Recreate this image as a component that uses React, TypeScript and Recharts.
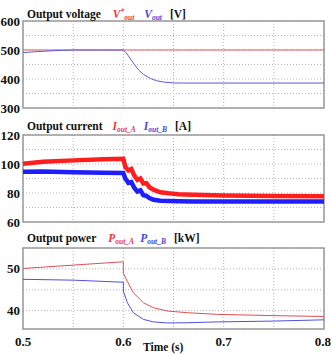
import { CartesianGrid, Line, LineChart, ReferenceArea, XAxis, YAxis } from "recharts";

// panel 1: output voltage
const time1 = [0.5, 0.51, 0.52, 0.53, 0.54, 0.55, 0.575, 0.6, 0.602, 0.605, 0.61, 0.615, 0.62, 0.627, 0.633, 0.64, 0.65, 0.66, 0.7, 0.75, 0.8];
const vRef = [500, 500, 500, 500, 500, 500, 500, 500, 500, 500, 500, 500, 500, 500, 500, 500, 500, 500, 500, 500, 500];
const vOut = [491, 493.5, 495.5, 497.5, 499, 500, 500, 500, 494, 480, 455, 432, 416, 402, 394, 389.5, 386.5, 386, 386, 386, 386];

// panel 2: output current
const time2 = [0.5, 0.52, 0.55, 0.58, 0.6, 0.602, 0.605, 0.608, 0.611, 0.614, 0.617, 0.62, 0.623, 0.626, 0.63, 0.637, 0.645, 0.655, 0.67, 0.7, 0.75, 0.8];
const iOutA = [100.2, 101.5, 102.5, 103.2, 103.6, 98, 95.5, 96.5, 92, 89, 90, 86.5, 86.8, 84, 82.3, 80.5, 79.8, 79.2, 78.8, 78.3, 78, 77.8];
const iOutB = [94.7, 94.8, 94.3, 94, 93.8, 90, 87, 87.5, 83.5, 81, 81.8, 78.5, 78, 76.5, 75.3, 74.6, 74.5, 74.3, 74.2, 74.2, 74.2, 74.2];

// panel 3: output power
const time3 = [0.5, 0.55, 0.6, 0.6, 0.604, 0.61, 0.62, 0.63, 0.644, 0.664, 0.694, 0.75, 0.8];
const pOutA = [50.1, 50.9, 51.7, 49.0, 47.0, 44.3, 41.9, 40.7, 39.9, 39.5, 39.1, 38.8, 38.6];
const pOutB = [47.5, 47.3, 46.8, 44.7, 41.9, 39.5, 37.9, 37.3, 37.05, 37.1, 37.3, 37.5, 37.8];

const xTicks = [0.5, 0.55, 0.6, 0.65, 0.7, 0.75, 0.8];
const xLabels = [0.5, 0.6, 0.7, 0.8];

const SERIF = "'Liberation Serif', 'Times New Roman', serif";
const RED = "#e8383c";
const BLUE = "#4848dc";

const tickStyle = { fontFamily: SERIF, fontWeight: 700, fontSize: 13, fill: "#111" };

function zip(t: number[], a: number[], b: number[]) {
  return t.map((x, i) => ({ t: x, a: a[i], b: b[i] }));
}

interface PanelProps {
  top: number;
  height: number;
  marginTop: number;
  marginBottom: number;
  data: { t: number; a: number; b: number }[];
  yDomain: [number, number];
  yTicks: number[];
  yLabels: number[];
  colorA: string;
  colorB: string;
  width: number;
  showX?: boolean;
}

function Panel(p: PanelProps) {
  return (
    <div style={{ position: "absolute", left: 0, top: p.top }}>
      <LineChart
        width={331}
        height={p.height}
        data={p.data}
        margin={{ top: p.marginTop, right: 7, left: 0, bottom: p.marginBottom }}
      >
        <CartesianGrid stroke="#b4b4b4" strokeDasharray="1 2" />
        <XAxis
          dataKey="t"
          type="number"
          domain={[0.5, 0.8]}
          ticks={xTicks}
          hide={!p.showX}
          height={20}
          axisLine={false}
          tickLine={false}
          tickMargin={2}
          tick={tickStyle}
          tickFormatter={(v: number) => (xLabels.includes(v) ? String(v) : "")}
        />
        <YAxis
          type="number"
          domain={p.yDomain}
          ticks={p.yTicks}
          width={23}
          axisLine={false}
          tickLine={false}
          tickSize={0}
          tickMargin={3}
          tick={tickStyle}
          tickFormatter={(v: number) => (p.yLabels.includes(v) ? String(v) : "")}
        />
        <Line dataKey="a" type="linear" stroke={p.colorA} strokeWidth={p.width} dot={false} isAnimationActive={false} />
        <Line dataKey="b" type="linear" stroke={p.colorB} strokeWidth={p.width} dot={false} isAnimationActive={false} />
        <ReferenceArea
          x1={0.5}
          x2={0.8}
          y1={p.yDomain[0]}
          y2={p.yDomain[1]}
          fill="none"
          stroke="#9a9a9a"
          strokeWidth={1.5}
        />
      </LineChart>
    </div>
  );
}

function Title({ top, children }: { top: number; children: React.ReactNode }) {
  return (
    <div
      style={{
        position: "absolute",
        left: 27,
        top,
        fontFamily: SERIF,
        fontWeight: 700,
        fontSize: 11.5,
        lineHeight: "14px",
        whiteSpace: "nowrap",
        color: "#111",
      }}
    >
      {children}
    </div>
  );
}

const subStyle = { fontSize: 7.5, verticalAlign: "-2px", fontStyle: "italic" } as const;

function Sym({ base, sub, sup, color, gap }: { base: string; sub: string; sup?: string; color: string; gap: number }) {
  return (
    <span style={{ color, marginLeft: gap, fontStyle: "italic" }}>
      {base}
      {sup && <span style={{ fontSize: 7.5, verticalAlign: "4px" }}>{sup}</span>}
      <span style={subStyle}>{sub}</span>
    </span>
  );
}

export default function App() {
  return (
    <div style={{ position: "absolute", left: 0, top: 0, width: 331, height: 354, background: "#fff", overflow: "hidden" }}>
      <Panel
        top={0}
        height={118}
        marginTop={21}
        marginBottom={10}
        data={zip(time1, vRef, vOut)}
        yDomain={[300, 600]}
        yTicks={[300, 350, 400, 450, 500, 550, 600]}
        yLabels={[300, 400, 500, 600]}
        colorA="#e05a5a"
        colorB="#5a5ae0"
        width={1}
      />
      <Panel
        top={115}
        height={120}
        marginTop={20}
        marginBottom={13}
        data={zip(time2, iOutA, iOutB)}
        yDomain={[60, 120]}
        yTicks={[60, 70, 80, 90, 100, 110, 120]}
        yLabels={[60, 80, 100, 120]}
        colorA="#ff1e1e"
        colorB="#1e1eff"
        width={4.5}
      />
      <Panel
        top={230}
        height={124}
        marginTop={18}
        marginBottom={5}
        data={zip(time3, pOutA, pOutB)}
        yDomain={[35.6, 55]}
        yTicks={[40, 45, 50]}
        yLabels={[40, 50]}
        colorA="#e05050"
        colorB="#5050e0"
        width={1}
        showX
      />
      <Title top={5}>
        Output voltage
        <Sym base="V" sup="*" sub="out" color={RED} gap={12} />
        <Sym base="V" sub="out" color={BLUE} gap={10} />
        <span style={{ marginLeft: 8 }}>[V]</span>
      </Title>
      <Title top={119}>
        Output current
        <Sym base="I" sub="out_A" color={RED} gap={10} />
        <Sym base="I" sub="out_B" color={BLUE} gap={8} />
        <span style={{ marginLeft: 8 }}>[A]</span>
      </Title>
      <Title top={231}>
        Output power
        <Sym base="P" sub="out_A" color={RED} gap={12} />
        <Sym base="P" sub="out_B" color={BLUE} gap={6} />
        <span style={{ marginLeft: 8 }}>[kW]</span>
      </Title>
      <div
        style={{
          position: "absolute",
          left: 143,
          top: 341,
          fontFamily: SERIF,
          fontWeight: 700,
          fontSize: 11.5,
          lineHeight: "12px",
          color: "#111",
        }}
      >
        Time (s)
      </div>
    </div>
  );
}
